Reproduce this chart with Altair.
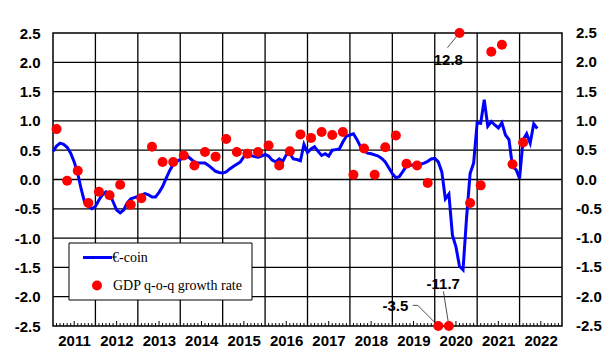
import altair as alt
import pandas as pd

START_YEAR = 2011
Y_MIN, Y_MAX = -2.5, 2.5

# €-coin, monthly from January 2011
ecoin = [
    0.48, 0.57, 0.62, 0.60, 0.55, 0.45, 0.30, 0.10, -0.17, -0.40, -0.46, -0.50,
    -0.46, -0.35, -0.26, -0.21, -0.24, -0.38, -0.52, -0.57, -0.52, -0.40, -0.33, -0.31,
    -0.29, -0.27, -0.24, -0.26, -0.30, -0.30, -0.22, -0.12, 0.02, 0.15, 0.26, 0.31,
    0.34, 0.38, 0.40, 0.35, 0.30, 0.28, 0.28, 0.28, 0.24, 0.19, 0.14, 0.12,
    0.11, 0.13, 0.18, 0.22, 0.26, 0.30, 0.39, 0.41, 0.41, 0.39, 0.38, 0.40,
    0.43, 0.40, 0.33, 0.30, 0.35, 0.31, 0.42, 0.44, 0.35, 0.34, 0.32, 0.60,
    0.46, 0.52, 0.56, 0.48, 0.41, 0.44, 0.40, 0.50, 0.51, 0.52, 0.64, 0.74,
    0.76, 0.78, 0.68, 0.56, 0.49, 0.45, 0.44, 0.42, 0.40, 0.36, 0.30, 0.20,
    0.10, 0.03, 0.05, 0.14, 0.23, 0.24, 0.25, 0.26, 0.26, 0.28, 0.31, 0.35,
    0.36, 0.30, 0.13, -0.33, -0.25, -0.95, -1.15, -1.48, -1.54, -0.65, 0.10, 0.28,
    0.97, 0.96, 1.36, 0.91, 0.99, 0.93, 0.88, 0.97, 0.76, 0.68, 0.22, 0.17,
    0.02, 0.68, 0.78, 0.62, 0.95, 0.87,
]

# GDP q-o-q growth rate, quarterly from 2011 Q1
gdp = [
    0.86, -0.02, 0.15, -0.40,
    -0.21, -0.27, -0.09, -0.43,
    -0.32, 0.56, 0.30, 0.30,
    0.41, 0.24, 0.47, 0.39,
    0.69, 0.47, 0.44, 0.47,
    0.58, 0.24, 0.48, 0.77,
    0.71, 0.81, 0.76, 0.81,
    0.08, 0.53, 0.08, 0.55,
    0.75, 0.27, 0.24, -0.06,
    -3.5, -11.7, 12.8, -0.40,
    -0.10, 2.18, 2.30, 0.26,
    0.63,
]

years = list(range(2011, 2023))
y_ticks = [-2.5, -2.0, -1.5, -1.0, -0.5, 0.0, 0.5, 1.0, 1.5, 2.0, 2.5]

# out-of-range GDP values that get a call-out label (quarter index)
callout_idx = [38, 37, 36]
callout_lab_t = [2020.32, 2020.20, 2019.07]
callout_lab_v = [2.045, -1.79, -2.165]
leader_t1 = [2020.30, 2020.205, 2019.48, 2019.60]
leader_v1 = [2.25, -1.91, -2.148, -2.148]
leader_to = [38, 37, None, 36]

ecoin_df = pd.DataFrame({"t": [START_YEAR + i / 12 for i in range(len(ecoin))], "v": ecoin})
gdp_df = pd.DataFrame({"t": [START_YEAR + (3 * i + 1) / 12 for i in range(len(gdp))], "v": gdp})
gdp_df["vc"] = gdp_df["v"].clip(Y_MIN, Y_MAX)

# grid lines as two-point polylines (one id per line)
grid_rows = []
for yr in years[1:]:
    grid_rows.append({"id": f"v{yr}", "gx": float(yr), "gy": Y_MIN})
    grid_rows.append({"id": f"v{yr}", "gx": float(yr), "gy": Y_MAX})
for v in y_ticks[1:-1]:
    grid_rows.append({"id": f"h{v}", "gx": 2011.0, "gy": v})
    grid_rows.append({"id": f"h{v}", "gx": 2023.0, "gy": v})
grid_df = pd.DataFrame(grid_rows)

# monthly minor ticks along the bottom edge
tick_rows = []
for k in range(1, 144):
    if k % 12 == 0:
        continue
    t = START_YEAR + k / 12
    top = Y_MIN + (0.085 if k % 12 == 6 else 0.05)
    tick_rows.append({"id": f"m{k}", "mt": t, "my": Y_MIN})
    tick_rows.append({"id": f"m{k}", "mt": t, "my": top})
ticks_df = pd.DataFrame(tick_rows)


def fmt(v):
    return ("-" if v < 0 else "") + f"{abs(v):.1f}"


ylab_df = pd.DataFrame({"v": y_ticks, "label": [fmt(v) for v in y_ticks]})

callout_df = pd.DataFrame({
    "label": [fmt(gdp[i]) for i in callout_idx],
    "lt": callout_lab_t, "lv": callout_lab_v,
})

lead_rows = []
for k in range(len(leader_t1)):
    if leader_to[k] is None:
        t2, v2 = leader_t1[k + 1], leader_v1[k + 1]
    else:
        t2, v2 = gdp_df["t"][leader_to[k]], gdp_df["vc"][leader_to[k]]
    lead_rows.append({"t1": leader_t1[k], "v1": leader_v1[k], "t2": float(t2), "v2": float(v2)})
lead_df = pd.DataFrame(lead_rows)

AX_FONT = "Liberation Sans"
PLOT_W, PLOT_H = 509, 293
xs = alt.Scale(domain=[2011, 2023], nice=False, zero=False)
ys = alt.Scale(domain=[Y_MIN, Y_MAX], nice=False, zero=False)

y_label_expr = "(datum.value < 0 ? '-' : '') + format(abs(datum.value), '.1f')"

x_axis = alt.Axis(values=years, grid=False, ticks=False, domain=False,
                  labelOffset=21, labelPadding=7, format="d",
                  labelFont=AX_FONT, labelFontSize=15, labelFontWeight="bold",
                  labelColor="black", title=None, labelOverlap=False, labelFlush=False)
y_axis = alt.Axis(values=y_ticks, grid=False, ticks=False, domain=False,
                  labelExpr=y_label_expr, labelPadding=13,
                  labelFont=AX_FONT, labelFontSize=15, labelFontWeight="bold",
                  labelColor="black", title=None, labelOverlap=False, labelFlush=False)


def X(f):
    return alt.X(f, scale=xs, axis=x_axis)


def Y(f):
    return alt.Y(f, scale=ys, axis=y_axis)


grid = alt.Chart(grid_df).mark_line(color="#000000", strokeWidth=1.3).encode(
    x=X("gx:Q"), y=Y("gy:Q"), detail="id:N")

line = alt.Chart(ecoin_df).mark_line(color="#0000FF", strokeWidth=3).encode(
    x=X("t:Q"), y=Y("v:Q"))

minor = alt.Chart(ticks_df).mark_line(color="#000000", strokeWidth=1).encode(
    x=X("mt:Q"), y=Y("my:Q"), detail="id:N")

leaders = alt.Chart(lead_df).mark_rule(color="#222222", strokeWidth=0.8).encode(
    x=X("t1:Q"), y=Y("v1:Q"), x2="t2:Q", y2="v2:Q")

points = alt.Chart(gdp_df).mark_circle(color="#FF0000", size=100, opacity=1).encode(
    x=X("t:Q"), y=Y("vc:Q"))

labels = alt.Chart(callout_df).mark_text(font=AX_FONT, fontSize=15, fontWeight="bold",
                                          color="black", align="center", baseline="middle").encode(
    x=X("lt:Q"), y=Y("lv:Q"), text="label:N")

right_labels = alt.Chart(ylab_df).mark_text(font=AX_FONT, fontSize=15, fontWeight="bold",
                                             color="black", align="left", baseline="middle",
                                             dx=14).encode(
    x=alt.value(PLOT_W), y=Y("v:Q"), text="label:N")

# legend box
one = pd.DataFrame({"k": [0]})
leg_box = alt.Chart(one).mark_rect(fill="white", stroke="black", strokeWidth=1).encode(
    x=alt.value(16), x2=alt.value(199), y=alt.value(210), y2=alt.value(267))
leg_line = alt.Chart(one).mark_rule(color="#0000FF", strokeWidth=3).encode(
    x=alt.value(30), x2=alt.value(59), y=alt.value(224.5))
leg_dot = alt.Chart(one).mark_circle(color="#FF0000", size=100, opacity=1).encode(
    x=alt.value(44), y=alt.value(252.5))
leg_t1 = alt.Chart(one).mark_text(font="Liberation Serif", fontSize=14, align="left",
                                   baseline="middle", color="black").encode(
    x=alt.value(59), y=alt.value(225), text=alt.value("€-coin"))
leg_t2 = alt.Chart(one).mark_text(font="Liberation Serif", fontSize=14, align="left",
                                   baseline="middle", color="black").encode(
    x=alt.value(60), y=alt.value(253), text=alt.value("GDP q-o-q growth rate"))

chart = alt.layer(grid, line, minor, leaders, points, labels, right_labels,
                  leg_box, leg_line, leg_dot, leg_t1, leg_t2).properties(
    width=PLOT_W, height=PLOT_H,
    autosize=alt.AutoSizeParams(type="none"),
    padding={"left": 53, "top": 33, "right": 51, "bottom": 29},
    background="white",
).configure_view(stroke="black", strokeWidth=1.5)

chart.save("out.html", embed_options={"renderer": "svg", "actions": False})
